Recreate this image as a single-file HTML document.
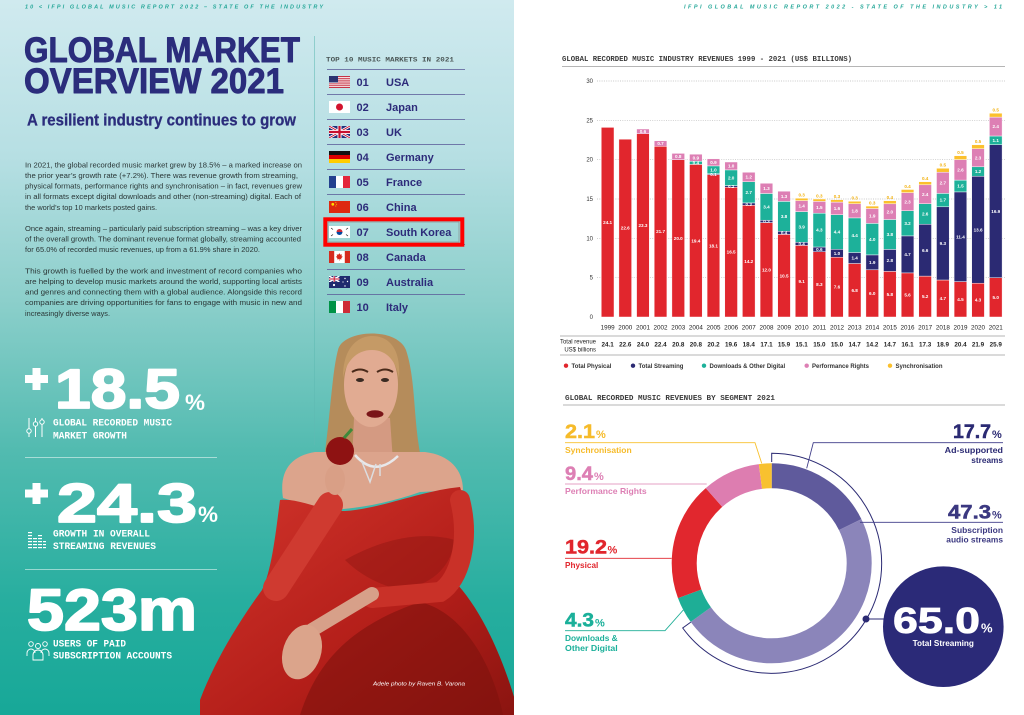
<!DOCTYPE html>
<html><head><meta charset="utf-8">
<style>
html,body{margin:0;padding:0;background:#fff;}
svg{display:block;font-family:"Liberation Sans",sans-serif;}
</style></head>
<body>
<svg width="1024" height="715" viewBox="0 0 1024 715" xmlns="http://www.w3.org/2000/svg">
<defs>
<linearGradient id="bg" x1="0" y1="0" x2="0" y2="1">
<stop offset="0" stop-color="#d0eaef"/>
<stop offset="0.22" stop-color="#b6dfe3"/>
<stop offset="0.42" stop-color="#8ccfcb"/>
<stop offset="0.63" stop-color="#52bbb0"/>
<stop offset="0.84" stop-color="#27ae9f"/>
<stop offset="1" stop-color="#17a898"/>
</linearGradient>
<linearGradient id="dress" x1="0" y1="0" x2="1" y2="1">
<stop offset="0" stop-color="#d2352c"/>
<stop offset="0.6" stop-color="#b31e19"/>
<stop offset="1" stop-color="#8a1410"/>
</linearGradient>
<clipPath id="ukc"><rect x="329" y="126" width="21" height="12"/></clipPath>
<clipPath id="auc"><rect x="329" y="276" width="10.5" height="6"/></clipPath>
</defs>

<!-- LEFT PAGE -->
<rect x="0" y="0" width="514" height="715" fill="url(#bg)"/>
<text x="25" y="8.5" font-size="5.5" font-style="italic" font-weight="bold" fill="#25a798" textLength="298" lengthAdjust="spacing">10 &lt; IFPI GLOBAL MUSIC REPORT 2022 – STATE OF THE INDUSTRY</text>

<g fill="#2b2d7c" stroke="#2b2d7c" stroke-width="0.9" stroke-linejoin="round">
<text x="24" y="62" font-size="35" font-weight="bold" textLength="276" lengthAdjust="spacingAndGlyphs">GLOBAL MARKET</text>
<text x="24" y="93" font-size="35" font-weight="bold" textLength="260" lengthAdjust="spacingAndGlyphs">OVERVIEW 2021</text>
</g>
<text x="27" y="125.5" font-size="16.5" font-weight="bold" fill="#2b2d7c" stroke="#2b2d7c" stroke-width="0.3" textLength="269" lengthAdjust="spacingAndGlyphs">A resilient industry continues to grow</text>

<g font-size="7.5" fill="#2a3636">
<text x="25" y="167.5" textLength="277" lengthAdjust="spacingAndGlyphs">In 2021, the global recorded music market grew by 18.5% – a marked increase on</text>
<text x="25" y="178" textLength="273" lengthAdjust="spacingAndGlyphs">the prior year’s growth rate (+7.2%). There was revenue growth from streaming,</text>
<text x="25" y="188.6" textLength="277" lengthAdjust="spacingAndGlyphs">physical formats, performance rights and synchronisation – in fact, revenues grew</text>
<text x="25" y="199.2" textLength="276" lengthAdjust="spacingAndGlyphs">in all formats except digital downloads and other (non-streaming) digital. Each of</text>
<text x="25" y="209.8" textLength="132" lengthAdjust="spacingAndGlyphs">the world’s top 10 markets posted gains.</text>
<text x="25" y="231" textLength="277" lengthAdjust="spacingAndGlyphs">Once again, streaming – particularly paid subscription streaming – was a key driver</text>
<text x="25" y="241.6" textLength="276" lengthAdjust="spacingAndGlyphs">of the overall growth. The dominant revenue format globally, streaming accounted</text>
<text x="25" y="252.2" textLength="235" lengthAdjust="spacingAndGlyphs">for 65.0% of recorded music revenues, up from a 61.9% share in 2020.</text>
<text x="25" y="273.4" textLength="277" lengthAdjust="spacingAndGlyphs">This growth is fuelled by the work and investment of record companies who</text>
<text x="25" y="284" textLength="277" lengthAdjust="spacingAndGlyphs">are helping to develop music markets around the world, supporting local artists</text>
<text x="25" y="294.6" textLength="277" lengthAdjust="spacingAndGlyphs">and genres and connecting them with a global audience.  Alongside this record</text>
<text x="25" y="305.2" textLength="277" lengthAdjust="spacingAndGlyphs">companies are driving opportunities for fans to engage with music in new and</text>
<text x="25" y="315.8" textLength="85" lengthAdjust="spacingAndGlyphs">increasingly diverse ways.</text>
</g>

<line x1="314.5" y1="36" x2="314.5" y2="445" stroke="#5fbab3" stroke-opacity="0.55" stroke-width="1"/>

<!-- Top 10 list -->
<text x="326" y="61.3" font-family="Liberation Mono, monospace" font-size="6.8" font-weight="bold" fill="#4a5656" textLength="128" lengthAdjust="spacingAndGlyphs">TOP 10 MUSIC MARKETS IN 2021</text>
<g stroke="#5c5e9a" stroke-width="0.9" stroke-opacity="0.8">
<line x1="327" y1="69.5" x2="465" y2="69.5"/>
<line x1="327" y1="94.5" x2="465" y2="94.5"/>
<line x1="327" y1="119.5" x2="465" y2="119.5"/>
<line x1="327" y1="144.5" x2="465" y2="144.5"/>
<line x1="327" y1="169.5" x2="465" y2="169.5"/>
<line x1="327" y1="194.5" x2="465" y2="194.5"/>
<line x1="327" y1="244.5" x2="465" y2="244.5"/>
<line x1="327" y1="269.5" x2="465" y2="269.5"/>
<line x1="327" y1="294.5" x2="465" y2="294.5"/>
</g>
<g font-size="11" font-weight="bold" fill="#2d2b7a">
<text x="356.5" y="86">01</text><text x="386" y="86">USA</text>
<text x="356.5" y="111">02</text><text x="386" y="111">Japan</text>
<text x="356.5" y="136">03</text><text x="386" y="136">UK</text>
<text x="356.5" y="161">04</text><text x="386" y="161">Germany</text>
<text x="356.5" y="186">05</text><text x="386" y="186">France</text>
<text x="356.5" y="211">06</text><text x="386" y="211">China</text>
<text x="356.5" y="236">07</text><text x="386" y="236">South Korea</text>
<text x="356.5" y="261">08</text><text x="386" y="261">Canada</text>
<text x="356.5" y="286">09</text><text x="386" y="286">Australia</text>
<text x="356.5" y="311">10</text><text x="386" y="311">Italy</text>
</g>
<!-- flags -->
<g>
<rect x="329" y="76" width="21" height="12" fill="#fff"/>
<g fill="#c42a3c"><rect x="329" y="76" width="21" height="0.95"/><rect x="329" y="77.85" width="21" height="0.95"/><rect x="329" y="79.7" width="21" height="0.95"/><rect x="329" y="81.55" width="21" height="0.95"/><rect x="329" y="83.4" width="21" height="0.95"/><rect x="329" y="85.25" width="21" height="0.95"/><rect x="329" y="87.05" width="21" height="0.95"/></g>
<rect x="329" y="76" width="9" height="6.5" fill="#2c3472"/>

<rect x="329" y="101" width="21" height="12" fill="#fff"/><circle cx="339.5" cy="107" r="3.5" fill="#d2132d"/>

<g clip-path="url(#ukc)"><rect x="329" y="126" width="21" height="12" fill="#23307a"/>
<path d="M329 126L350 138M350 126L329 138" stroke="#fff" stroke-width="2.6"/>
<path d="M329 126L350 138M350 126L329 138" stroke="#c8102e" stroke-width="0.9"/>
<path d="M339.5 126V138M329 132H350" stroke="#fff" stroke-width="4"/>
<path d="M339.5 126V138M329 132H350" stroke="#c8102e" stroke-width="2.2"/></g>

<rect x="329" y="151" width="21" height="4" fill="#111"/><rect x="329" y="155" width="21" height="4" fill="#dd0000"/><rect x="329" y="159" width="21" height="4" fill="#ffcc00"/>

<rect x="329" y="176" width="7" height="12" fill="#23408e"/><rect x="336" y="176" width="7" height="12" fill="#fff"/><rect x="343" y="176" width="7" height="12" fill="#e3263a"/>

<rect x="329" y="201" width="21" height="12" fill="#de2910"/><circle cx="332.8" cy="204.3" r="1.4" fill="#ffde00"/><circle cx="335.8" cy="202.6" r="0.5" fill="#ffde00"/><circle cx="336.6" cy="204.2" r="0.5" fill="#ffde00"/><circle cx="335.8" cy="206" r="0.5" fill="#ffde00"/>

<rect x="329" y="226" width="21" height="12" fill="#fff"/>
<path d="M336.5 232a3 3 0 0 1 6 0z" fill="#cd2e3a"/><path d="M336.5 232a3 3 0 0 0 6 0z" fill="#0047a0"/>
<g stroke="#222" stroke-width="0.7"><line x1="331" y1="228" x2="333" y2="229.5"/><line x1="346" y1="229.5" x2="348" y2="228"/><line x1="331" y1="236" x2="333" y2="234.5"/><line x1="346" y1="234.5" x2="348" y2="236"/></g>

<rect x="329" y="251" width="21" height="12" fill="#fff"/><rect x="329" y="251" width="5.2" height="12" fill="#d52b1e"/><rect x="344.8" y="251" width="5.2" height="12" fill="#d52b1e"/>
<path d="M339.5 253.2l1 1.6 1.4-0.5-0.4 2 1.3 0.3-1.6 1.6 0.3 1.2-2 -0.3v1.7h-0.4v-1.7l-2 0.3 0.3-1.2-1.6-1.6 1.3-0.3-0.4-2 1.4 0.5z" fill="#d52b1e"/>

<rect x="329" y="276" width="21" height="12" fill="#1f2a6e"/>
<g clip-path="url(#auc)"><path d="M329 276L339.5 282M339.5 276L329 282" stroke="#fff" stroke-width="1.6"/><path d="M334.25 276V282M329 279H339.5" stroke="#fff" stroke-width="2"/><path d="M334.25 276V282M329 279H339.5" stroke="#c8102e" stroke-width="1"/></g>
<g fill="#fff"><circle cx="334" cy="285" r="1.1"/><circle cx="345" cy="278.5" r="0.7"/><circle cx="347.5" cy="281.5" r="0.7"/><circle cx="343" cy="282" r="0.6"/><circle cx="345" cy="286" r="0.7"/></g>

<rect x="329" y="301" width="7" height="12" fill="#009246"/><rect x="336" y="301" width="7" height="12" fill="#fff"/><rect x="343" y="301" width="7" height="12" fill="#ce2b37"/>
</g>
<!-- highlight box -->
<rect x="328" y="222" width="131" height="20" fill="none" stroke="#8a9a9a" stroke-width="0.8"/>
<rect x="325.3" y="219.3" width="137" height="25.4" fill="none" stroke="#ff0000" stroke-width="4"/>

<!-- Big stats -->
<g fill="#fff">
<rect x="25" y="375" width="23" height="8"/><rect x="32.5" y="368" width="8" height="22"/>
<text x="55" y="408" font-size="56" font-weight="bold" stroke="#fff" stroke-width="1.8" stroke-linejoin="round" textLength="125" lengthAdjust="spacingAndGlyphs">18.5</text>
<text x="185" y="410" font-size="22" font-weight="bold" textLength="20" lengthAdjust="spacingAndGlyphs">%</text>
<text x="53" y="425.5" font-size="10.5" font-weight="bold" font-family="Liberation Mono, monospace" textLength="119" lengthAdjust="spacingAndGlyphs">GLOBAL RECORDED MUSIC</text>
<text x="53" y="438.5" font-size="10.5" font-weight="bold" font-family="Liberation Mono, monospace" textLength="74" lengthAdjust="spacingAndGlyphs">MARKET GROWTH</text>

<rect x="25" y="489.5" width="23" height="8"/><rect x="32.5" y="483" width="8" height="21"/>
<text x="57" y="522" font-size="55" font-weight="bold" stroke="#fff" stroke-width="1.8" stroke-linejoin="round" textLength="140" lengthAdjust="spacingAndGlyphs">24.3</text>
<text x="198" y="522" font-size="22" font-weight="bold" textLength="20" lengthAdjust="spacingAndGlyphs">%</text>
<text x="53" y="536.5" font-size="10.5" font-weight="bold" font-family="Liberation Mono, monospace" textLength="97" lengthAdjust="spacingAndGlyphs">GROWTH IN OVERALL</text>
<text x="53" y="549" font-size="10.5" font-weight="bold" font-family="Liberation Mono, monospace" textLength="103" lengthAdjust="spacingAndGlyphs">STREAMING REVENUES</text>

<text x="27" y="630" font-size="58" font-weight="bold" stroke="#fff" stroke-width="1.8" stroke-linejoin="round" textLength="170" lengthAdjust="spacingAndGlyphs">523m</text>
<text x="53" y="646.5" font-size="10.5" font-weight="bold" font-family="Liberation Mono, monospace" textLength="73" lengthAdjust="spacingAndGlyphs">USERS OF PAID</text>
<text x="53" y="658.5" font-size="10.5" font-weight="bold" font-family="Liberation Mono, monospace" textLength="119" lengthAdjust="spacingAndGlyphs">SUBSCRIPTION ACCOUNTS</text>
</g>
<line x1="25" y1="457.5" x2="217" y2="457.5" stroke="#fff" stroke-opacity="0.5" stroke-width="1"/>
<line x1="25" y1="569.5" x2="217" y2="569.5" stroke="#fff" stroke-opacity="0.5" stroke-width="1"/>
<!-- icons -->
<g stroke="#fff" stroke-width="1" fill="none">
<line x1="29" y1="418" x2="29" y2="437"/><circle cx="29" cy="431" r="2.2" fill="#4bb8ad"/>
<line x1="35.5" y1="418" x2="35.5" y2="437"/><circle cx="35.5" cy="424" r="2.2" fill="#4bb8ad"/>
<line x1="42" y1="418" x2="42" y2="437"/><circle cx="42" cy="422" r="2.2" fill="#4bb8ad"/>
</g>
<g fill="#fff">
<rect x="28" y="532" width="4" height="1.2"/><rect x="28" y="535" width="4" height="1.2"/><rect x="28" y="538" width="4" height="1.2"/><rect x="28" y="541" width="4" height="1.2"/><rect x="28" y="544" width="4" height="1.2"/><rect x="28" y="547" width="4" height="1.2"/>
<rect x="33" y="538" width="4" height="1.2"/><rect x="33" y="541" width="4" height="1.2"/><rect x="33" y="544" width="4" height="1.2"/><rect x="33" y="547" width="4" height="1.2"/>
<rect x="38" y="535" width="4" height="1.2"/><rect x="38" y="538" width="4" height="1.2"/><rect x="38" y="541" width="4" height="1.2"/><rect x="38" y="544" width="4" height="1.2"/><rect x="38" y="547" width="4" height="1.2"/>
<rect x="43" y="541" width="3" height="1.2"/><rect x="43" y="544" width="3" height="1.2"/><rect x="43" y="547" width="3" height="1.2"/>
</g>
<g stroke="#fff" stroke-width="0.9" fill="none">
<circle cx="31" cy="644" r="2.3"/><circle cx="38" cy="646" r="2.5"/><circle cx="45" cy="644" r="2.3"/>
<path d="M27 656v-3a4 4 0 0 1 8 0"/><path d="M33 660v-5a5 5 0 0 1 10 0v5z"/><path d="M41 653a4 4 0 0 1 8 0v3"/>
</g>

<!-- PHOTO -->
<g>
<path d="M338 350C342 330 396 326 406 350C416 380 413 420 421 458L324 458C330 420 332 372 338 350Z" fill="#b58c5b"/>
<path d="M354 418L390 418L393 462L352 462Z" fill="#d49a82"/>
<path d="M283 498C279 472 290 456 315 452L425 452C450 455 463 470 463 490L420 492C392 502 362 508 332 510C312 507 296 502 283 498Z" fill="#dca48c"/>
<ellipse cx="371" cy="385" rx="27" ry="42" fill="#e1ab92"/>
<path d="M343 378C343 345 360 336 372 336C390 336 401 350 399 378C396 360 386 350 372 350C356 350 346 362 343 378Z" fill="#c59a66"/>
<path d="M352 372q8-5 16 0M377 372q8-5 16 0" stroke="#4a2a1a" stroke-width="2" fill="none"/>
<ellipse cx="360" cy="380" rx="4" ry="2" fill="#3a2a22"/><ellipse cx="385" cy="380" rx="4" ry="2" fill="#3a2a22"/>
<ellipse cx="375" cy="414" rx="8.5" ry="3.8" fill="#7a1518"/>
<path d="M355 455Q375 478 398 456" stroke="#e8e8ea" stroke-width="2.5" fill="none"/>
<path d="M362 462l8 20l6-18M380 464l0 12" stroke="#dcdde0" stroke-width="1.5" fill="none"/>
<path d="M200 715L200 700C215 660 240 620 262 590C272 570 276 530 280 500C300 498 320 511 345 511C380 509 420 491 460 487C468 510 466 550 458 585C480 610 500 650 515 700L515 715Z" fill="url(#dress)"/>
<path d="M300 715C320 652 362 622 420 602C462 612 492 662 503 715Z" fill="#7e120e" fill-opacity="0.6"/>
<path d="M345 560C380 540 420 530 455 540C450 570 430 585 400 590C380 585 360 575 345 560Z" fill="#8e1612" fill-opacity="0.45"/>
<path d="M276 588L330 505" stroke="#cf3a30" stroke-width="26" stroke-linecap="round"/>
<path d="M460 500C470 540 460 580 440 592L372 598" stroke="#c93128" stroke-width="20" stroke-linecap="round" fill="none"/>
<ellipse cx="335" cy="480" rx="10" ry="15" fill="#d99f86"/>
<circle cx="340" cy="451" r="14" fill="#8e1212"/>
<path d="M344 438l8-9" stroke="#3d8a3a" stroke-width="3"/>
<path d="M372 594L312 630" stroke="#d7a089" stroke-width="14" stroke-linecap="round"/>
<ellipse cx="302" cy="652" rx="19" ry="28" transform="rotate(18 302 652)" fill="#dba48b"/>
<text x="373" y="685.5" font-size="5.6" font-style="italic" fill="#fff" textLength="92" lengthAdjust="spacingAndGlyphs">Adele photo by Raven B. Varona</text>
</g>

<!-- RIGHT PAGE -->
<rect x="514" y="0" width="510" height="715" fill="#fff"/>
<text x="684" y="8.5" font-size="5.5" font-style="italic" font-weight="bold" fill="#25a798" textLength="318" lengthAdjust="spacing">IFPI GLOBAL MUSIC REPORT 2022 - STATE OF THE INDUSTRY &gt; 11</text>

<text x="562" y="61" font-family="Liberation Mono, monospace" font-size="7.2" font-weight="bold" fill="#3a3a3a" textLength="290" lengthAdjust="spacingAndGlyphs">GLOBAL RECORDED MUSIC INDUSTRY REVENUES 1999 - 2021 (US$ BILLIONS)</text>
<line x1="562" y1="66.5" x2="1005" y2="66.5" stroke="#b5b5b5" stroke-width="1"/>

<!-- grid -->
<g stroke="#b8b8b8" stroke-width="0.7" stroke-dasharray="1 1.3">
<line x1="597" y1="81" x2="1005" y2="81"/>
<line x1="597" y1="120.3" x2="1005" y2="120.3"/>
<line x1="597" y1="159.7" x2="1005" y2="159.7"/>
<line x1="597" y1="199" x2="1005" y2="199"/>
<line x1="597" y1="238.3" x2="1005" y2="238.3"/>
<line x1="597" y1="277.7" x2="1005" y2="277.7"/>
</g>
<g font-size="6" fill="#333" text-anchor="end">
<text x="593" y="83">30</text><text x="593" y="122.3">25</text><text x="593" y="161.7">20</text><text x="593" y="201">15</text><text x="593" y="240.3">10</text><text x="593" y="279.7">5</text><text x="593" y="319">0</text>
</g>

<!-- bars -->
<g stroke="#fff" stroke-width="0.45">
<g transform="translate(601.3,0)"><rect width="12.7" y="127.4" height="189.6" fill="#e1262d"/></g>
<g transform="translate(618.9,0)"><rect width="12.7" y="139.2" height="177.8" fill="#e1262d"/></g>
<g transform="translate(636.6,0)"><rect width="12.7" y="133.7" height="183.3" fill="#e1262d"/><rect width="12.7" y="129" height="4.7" fill="#dd7fb4"/></g>
<g transform="translate(654.2,0)"><rect width="12.7" y="146.3" height="170.7" fill="#e1262d"/><rect width="12.7" y="140.8" height="5.5" fill="#dd7fb4"/></g>
<g transform="translate(671.9,0)"><rect width="12.7" y="159.7" height="157.3" fill="#e1262d"/><rect width="12.7" y="153.4" height="6.3" fill="#dd7fb4"/></g>
<g transform="translate(689.5,0)"><rect width="12.7" y="164.4" height="152.6" fill="#e1262d"/><rect width="12.7" y="161.3" height="3.1" fill="#1db19a"/><rect width="12.7" y="154.2" height="7.1" fill="#dd7fb4"/></g>
<g transform="translate(707.1,0)"><rect width="12.7" y="174.6" height="142.4" fill="#e1262d"/><rect width="12.7" y="173.8" height="0.8" fill="#2b2a73"/><rect width="12.7" y="165.9" height="7.9" fill="#1db19a"/><rect width="12.7" y="158.8" height="7.1" fill="#dd7fb4"/></g>
<g transform="translate(724.8,0)"><rect width="12.7" y="187.2" height="129.8" fill="#e1262d"/><rect width="12.7" y="185.6" height="1.6" fill="#2b2a73"/><rect width="12.7" y="169.9" height="15.7" fill="#1db19a"/><rect width="12.7" y="162" height="7.9" fill="#dd7fb4"/></g>
<g transform="translate(742.4,0)"><rect width="12.7" y="205.3" height="111.7" fill="#e1262d"/><rect width="12.7" y="202.9" height="2.4" fill="#2b2a73"/><rect width="12.7" y="181.7" height="21.2" fill="#1db19a"/><rect width="12.7" y="172.3" height="9.4" fill="#dd7fb4"/></g>
<g transform="translate(760.1,0)"><rect width="12.7" y="222.6" height="94.4" fill="#e1262d"/><rect width="12.7" y="220.2" height="2.4" fill="#2b2a73"/><rect width="12.7" y="193.5" height="26.7" fill="#1db19a"/><rect width="12.7" y="183.3" height="10.2" fill="#dd7fb4"/></g>
<g transform="translate(777.7,0)"><rect width="12.7" y="234.4" height="82.6" fill="#e1262d"/><rect width="12.7" y="231.3" height="3.1" fill="#2b2a73"/><rect width="12.7" y="201.4" height="29.9" fill="#1db19a"/><rect width="12.7" y="191.2" height="10.2" fill="#dd7fb4"/></g>
<g transform="translate(795.3,0)"><rect width="12.7" y="245.4" height="71.6" fill="#e1262d"/><rect width="12.7" y="242.3" height="3.1" fill="#2b2a73"/><rect width="12.7" y="211.6" height="30.7" fill="#1db19a"/><rect width="12.7" y="200.6" height="11" fill="#dd7fb4"/><rect width="12.7" y="198.2" height="2.4" fill="#fbc02d"/></g>
<g transform="translate(813,0)"><rect width="12.7" y="251.7" height="65.3" fill="#e1262d"/><rect width="12.7" y="247" height="4.7" fill="#2b2a73"/><rect width="12.7" y="213.2" height="33.8" fill="#1db19a"/><rect width="12.7" y="201.4" height="11.8" fill="#dd7fb4"/><rect width="12.7" y="199" height="2.4" fill="#fbc02d"/></g>
<g transform="translate(830.6,0)"><rect width="12.7" y="257.2" height="59.8" fill="#e1262d"/><rect width="12.7" y="249.3" height="7.9" fill="#2b2a73"/><rect width="12.7" y="214.7" height="34.6" fill="#1db19a"/><rect width="12.7" y="202.1" height="12.6" fill="#dd7fb4"/><rect width="12.7" y="199.7" height="2.4" fill="#fbc02d"/></g>
<g transform="translate(848.3,0)"><rect width="12.7" y="263.5" height="53.5" fill="#e1262d"/><rect width="12.7" y="252.5" height="11" fill="#2b2a73"/><rect width="12.7" y="217.9" height="34.6" fill="#1db19a"/><rect width="12.7" y="203.7" height="14.2" fill="#dd7fb4"/><rect width="12.7" y="201.3" height="2.4" fill="#fbc02d"/></g>
<g transform="translate(865.9,0)"><rect width="12.7" y="269.8" height="47.2" fill="#e1262d"/><rect width="12.7" y="254.9" height="14.9" fill="#2b2a73"/><rect width="12.7" y="223.4" height="31.5" fill="#1db19a"/><rect width="12.7" y="208.5" height="14.9" fill="#dd7fb4"/><rect width="12.7" y="206.1" height="2.4" fill="#fbc02d"/></g>
<g transform="translate(883.5,0)"><rect width="12.7" y="271.4" height="45.6" fill="#e1262d"/><rect width="12.7" y="249.4" height="22" fill="#2b2a73"/><rect width="12.7" y="219.5" height="29.9" fill="#1db19a"/><rect width="12.7" y="203.8" height="15.7" fill="#dd7fb4"/><rect width="12.7" y="200.7" height="3.1" fill="#fbc02d"/></g>
<g transform="translate(901.2,0)"><rect width="12.7" y="272.9" height="44.1" fill="#e1262d"/><rect width="12.7" y="235.9" height="37" fill="#2b2a73"/><rect width="12.7" y="210.7" height="25.2" fill="#1db19a"/><rect width="12.7" y="192.6" height="18.1" fill="#dd7fb4"/><rect width="12.7" y="189.5" height="3.1" fill="#fbc02d"/></g>
<g transform="translate(918.8,0)"><rect width="12.7" y="276.1" height="40.9" fill="#e1262d"/><rect width="12.7" y="224.2" height="51.9" fill="#2b2a73"/><rect width="12.7" y="203.7" height="20.5" fill="#1db19a"/><rect width="12.7" y="184.8" height="18.9" fill="#dd7fb4"/><rect width="12.7" y="181.7" height="3.1" fill="#fbc02d"/></g>
<g transform="translate(936.5,0)"><rect width="12.7" y="280" height="37" fill="#e1262d"/><rect width="12.7" y="206.8" height="73.2" fill="#2b2a73"/><rect width="12.7" y="193.4" height="13.4" fill="#1db19a"/><rect width="12.7" y="172.2" height="21.2" fill="#dd7fb4"/><rect width="12.7" y="168.3" height="3.9" fill="#fbc02d"/></g>
<g transform="translate(954.1,0)"><rect width="12.7" y="281.6" height="35.4" fill="#e1262d"/><rect width="12.7" y="191.9" height="89.7" fill="#2b2a73"/><rect width="12.7" y="180.1" height="11.8" fill="#1db19a"/><rect width="12.7" y="159.6" height="20.5" fill="#dd7fb4"/><rect width="12.7" y="155.7" height="3.9" fill="#fbc02d"/></g>
<g transform="translate(971.7,0)"><rect width="12.7" y="283.2" height="33.8" fill="#e1262d"/><rect width="12.7" y="176.2" height="107" fill="#2b2a73"/><rect width="12.7" y="166.8" height="9.4" fill="#1db19a"/><rect width="12.7" y="148.7" height="18.1" fill="#dd7fb4"/><rect width="12.7" y="144.8" height="3.9" fill="#fbc02d"/></g>
<g transform="translate(989.4,0)"><rect width="12.7" y="277.7" height="39.3" fill="#e1262d"/><rect width="12.7" y="144.7" height="133" fill="#2b2a73"/><rect width="12.7" y="136" height="8.7" fill="#1db19a"/><rect width="12.7" y="117.1" height="18.9" fill="#dd7fb4"/><rect width="12.7" y="113.2" height="3.9" fill="#fbc02d"/></g>
</g>

<!-- bar value labels -->
<g font-size="4.6" font-weight="bold" fill="#fff" text-anchor="middle">
<text x="607.65" y="223.8">24.1</text>
<text x="625.25" y="229.7">22.6</text>
<text x="642.95" y="226.9">23.3</text><text x="642.95" y="133">0.6</text>
<text x="660.55" y="233.2">21.7</text><text x="660.55" y="145.2">0.7</text>
<text x="678.25" y="239.9">20.0</text><text x="678.25" y="158.1">0.8</text>
<text x="695.85" y="242.3">19.4</text><text x="695.85" y="164.5">0.4</text><text x="695.85" y="159.4">0.9</text>
<text x="713.45" y="247.4">18.1</text><text x="713.45" y="176">0.1</text><text x="713.45" y="171.5">1.0</text><text x="713.45" y="164">0.9</text>
<text x="731.15" y="253.7">16.5</text><text x="731.15" y="188.2">0.2</text><text x="731.15" y="179.4">2.0</text><text x="731.15" y="167.6">1.0</text>
<text x="748.75" y="262.8">14.2</text><text x="748.75" y="205.9">0.3</text><text x="748.75" y="193.9">2.7</text><text x="748.75" y="178.6">1.2</text>
<text x="766.45" y="271.4">12.0</text><text x="766.45" y="223.2">0.3</text><text x="766.45" y="208.5">3.4</text><text x="766.45" y="190">1.3</text>
<text x="784.05" y="277.3">10.5</text><text x="784.05" y="234.6">0.4</text><text x="784.05" y="218">3.8</text><text x="784.05" y="197.9">1.3</text>
<text x="801.65" y="282.8">9.1</text><text x="801.65" y="245.5">0.4</text><text x="801.65" y="228.6">3.9</text><text x="801.65" y="207.7">1.4</text>
<text x="819.35" y="286">8.3</text><text x="819.35" y="251">0.6</text><text x="819.35" y="231.7">4.3</text><text x="819.35" y="208.9">1.5</text>
<text x="836.95" y="288.7">7.6</text><text x="836.95" y="254.9">1.0</text><text x="836.95" y="233.6">4.4</text><text x="836.95" y="210">1.6</text>
<text x="854.65" y="291.9">6.8</text><text x="854.65" y="259.6">1.4</text><text x="854.65" y="236.8">4.4</text><text x="854.65" y="212.4">1.8</text>
<text x="872.25" y="295">6.0</text><text x="872.25" y="264">1.9</text><text x="872.25" y="240.8">4.0</text><text x="872.25" y="217.6">1.9</text>
<text x="889.85" y="295.8">5.8</text><text x="889.85" y="262">2.8</text><text x="889.85" y="236.1">3.8</text><text x="889.85" y="213.3">2.0</text>
<text x="907.55" y="296.6">5.6</text><text x="907.55" y="256">4.7</text><text x="907.55" y="224.9">3.2</text><text x="907.55" y="203.3">2.3</text>
<text x="925.15" y="298.2">5.2</text><text x="925.15" y="251.8">6.6</text><text x="925.15" y="215.6">2.6</text><text x="925.15" y="195.9">2.4</text>
<text x="942.85" y="300.1">4.7</text><text x="942.85" y="245">9.3</text><text x="942.85" y="201.7">1.7</text><text x="942.85" y="184.4">2.7</text>
<text x="960.45" y="300.9">4.5</text><text x="960.45" y="238.4">11.4</text><text x="960.45" y="187.6">1.5</text><text x="960.45" y="171.5">2.6</text>
<text x="978.05" y="301.7">4.3</text><text x="978.05" y="231.3">13.6</text><text x="978.05" y="173.1">1.2</text><text x="978.05" y="159.4">2.3</text>
<text x="995.75" y="299">5.0</text><text x="995.75" y="212.8">16.9</text><text x="995.75" y="142">1.1</text><text x="995.75" y="128.2">2.4</text>
</g>
<g font-size="4.6" font-weight="bold" fill="#f2b10f" text-anchor="middle">
<text x="801.65" y="196.6">0.3</text><text x="819.35" y="197.4">0.3</text><text x="836.95" y="198.1">0.3</text><text x="854.65" y="199.7">0.3</text><text x="872.25" y="204.5">0.3</text><text x="889.85" y="199.1">0.4</text><text x="907.55" y="187.9">0.4</text><text x="925.15" y="180.1">0.4</text><text x="942.85" y="166.7">0.5</text><text x="960.45" y="154.1">0.5</text><text x="978.05" y="143.2">0.5</text><text x="995.75" y="111.6">0.5</text>
</g>

<!-- year labels -->
<g font-size="6.3" fill="#222" text-anchor="middle">
<text x="607.65" y="329.5">1999</text><text x="625.25" y="329.5">2000</text><text x="642.95" y="329.5">2001</text><text x="660.55" y="329.5">2002</text><text x="678.25" y="329.5">2003</text><text x="695.85" y="329.5">2004</text><text x="713.45" y="329.5">2005</text><text x="731.15" y="329.5">2006</text><text x="748.75" y="329.5">2007</text><text x="766.45" y="329.5">2008</text><text x="784.05" y="329.5">2009</text><text x="801.65" y="329.5">2010</text><text x="819.35" y="329.5">2011</text><text x="836.95" y="329.5">2012</text><text x="854.65" y="329.5">2013</text><text x="872.25" y="329.5">2014</text><text x="889.85" y="329.5">2015</text><text x="907.55" y="329.5">2016</text><text x="925.15" y="329.5">2017</text><text x="942.85" y="329.5">2018</text><text x="960.45" y="329.5">2019</text><text x="978.05" y="329.5">2020</text><text x="995.75" y="329.5">2021</text>
</g>
<line x1="560" y1="336" x2="1005" y2="336" stroke="#b5b5b5" stroke-width="1"/>
<g font-size="6" fill="#222" text-anchor="end">
<text x="596" y="343.5">Total revenue</text><text x="596" y="351.5">US$ billions</text>
</g>
<g font-size="6.3" font-weight="bold" fill="#222" text-anchor="middle">
<text x="607.65" y="346.5">24.1</text><text x="625.25" y="346.5">22.6</text><text x="642.95" y="346.5">24.0</text><text x="660.55" y="346.5">22.4</text><text x="678.25" y="346.5">20.8</text><text x="695.85" y="346.5">20.8</text><text x="713.45" y="346.5">20.2</text><text x="731.15" y="346.5">19.6</text><text x="748.75" y="346.5">18.4</text><text x="766.45" y="346.5">17.1</text><text x="784.05" y="346.5">15.9</text><text x="801.65" y="346.5">15.1</text><text x="819.35" y="346.5">15.0</text><text x="836.95" y="346.5">15.0</text><text x="854.65" y="346.5">14.7</text><text x="872.25" y="346.5">14.2</text><text x="889.85" y="346.5">14.7</text><text x="907.55" y="346.5">16.1</text><text x="925.15" y="346.5">17.3</text><text x="942.85" y="346.5">18.9</text><text x="960.45" y="346.5">20.4</text><text x="978.05" y="346.5">21.9</text><text x="995.75" y="346.5">25.9</text>
</g>
<line x1="560" y1="355" x2="1005" y2="355" stroke="#b5b5b5" stroke-width="1"/>
<!-- legend -->
<circle cx="566" cy="365.7" r="2.2" fill="#e1262d"/><text x="571.5" y="367.8" font-size="6" font-weight="bold" fill="#333">Total Physical</text>
<circle cx="633" cy="365.7" r="2.2" fill="#2b2a73"/><text x="638.5" y="367.8" font-size="6" font-weight="bold" fill="#333">Total Streaming</text>
<circle cx="704" cy="365.7" r="2.2" fill="#1db19a"/><text x="709.5" y="367.8" font-size="6" font-weight="bold" fill="#333">Downloads &amp; Other Digital</text>
<circle cx="806.7" cy="365.7" r="2.2" fill="#dd7fb4"/><text x="812" y="367.8" font-size="6" font-weight="bold" fill="#333">Performance Rights</text>
<circle cx="890" cy="365.7" r="2.2" fill="#fbc02d"/><text x="895.5" y="367.8" font-size="6" font-weight="bold" fill="#333">Synchronisation</text>

<!-- donut section -->
<text x="565" y="399.8" font-family="Liberation Mono, monospace" font-size="7.2" font-weight="bold" fill="#3a3a3a" textLength="210" lengthAdjust="spacingAndGlyphs">GLOBAL RECORDED MUSIC REVENUES BY SEGMENT 2021</text>
<line x1="563" y1="405" x2="1005" y2="405" stroke="#b5b5b5" stroke-width="1"/>

<g transform="rotate(-90 771.7 563.3)" fill="none" stroke-width="25">
<circle cx="771.7" cy="563.3" r="87.5" stroke="#5f5a9c" stroke-dasharray="97.31 549.78" stroke-dashoffset="0"/>
<circle cx="771.7" cy="563.3" r="87.5" stroke="#8b85ba" stroke-dasharray="260.05 549.78" stroke-dashoffset="-97.31"/>
<circle cx="771.7" cy="563.3" r="87.5" stroke="#1eae96" stroke-dasharray="23.64 549.78" stroke-dashoffset="-357.36"/>
<circle cx="771.7" cy="563.3" r="87.5" stroke="#e1272e" stroke-dasharray="105.56 549.78" stroke-dashoffset="-381.0"/>
<circle cx="771.7" cy="563.3" r="87.5" stroke="#dd7db0" stroke-dasharray="51.68 549.78" stroke-dashoffset="-486.56"/>
<circle cx="771.7" cy="563.3" r="87.5" stroke="#f8c12f" stroke-dasharray="11.55 549.78" stroke-dashoffset="-538.24"/>
</g>
<path d="M771.7 462V453.3A110 110 0 1 1 682.7 628L690.8 622.1" fill="none" stroke="#2b2a73" stroke-width="1"/>
<circle cx="866" cy="619" r="3.5" fill="#2b2a73"/>
<line x1="866" y1="619" x2="886" y2="619" stroke="#2b2a73" stroke-width="1"/>
<circle cx="943.3" cy="626.7" r="60.3" fill="#2b2a78"/>
<text x="893" y="633" font-size="36" font-weight="bold" fill="#fff" stroke="#fff" stroke-width="0.8" textLength="87" lengthAdjust="spacingAndGlyphs">65.0</text>
<text x="981" y="632.5" font-size="13" font-weight="bold" fill="#fff">%</text>
<text x="943.3" y="646.2" font-size="8.2" font-weight="bold" fill="#fff" text-anchor="middle">Total Streaming</text>

<!-- connector lines -->
<g fill="none" stroke-width="0.9">
<polyline points="565,442.7 755,442.7 761.7,463.3" stroke="#f8c12f"/>
<line x1="565" y1="484" x2="706.7" y2="484" stroke="#e6a0c6"/>
<line x1="565" y1="558.3" x2="671.7" y2="558.3" stroke="#e1272e"/>
<polyline points="565,630.7 665,630.7 683.3,610" stroke="#1eae96"/>
<polyline points="1003,442.7 813.3,442.7 806.7,468.3" stroke="#3f3c88"/>
<line x1="1003" y1="522.3" x2="860" y2="522.3" stroke="#3f3c88"/>
</g>

<!-- donut labels -->
<g font-weight="bold">
<text x="565" y="438" font-size="19" fill="#f6bb2a" stroke="#f6bb2a" stroke-width="0.5" textLength="30" lengthAdjust="spacingAndGlyphs">2.1</text><text x="596" y="438" font-size="11" fill="#f6bb2a">%</text>
<text x="565" y="453" font-size="8.3" fill="#f6bb2a" textLength="66.7" lengthAdjust="spacingAndGlyphs">Synchronisation</text>
<text x="565" y="480" font-size="19" fill="#dd7fb4" stroke="#dd7fb4" stroke-width="0.5" textLength="28" lengthAdjust="spacingAndGlyphs">9.4</text><text x="594" y="480" font-size="11" fill="#dd7fb4">%</text>
<text x="565" y="494" font-size="8.3" fill="#dd7fb4" textLength="81.7" lengthAdjust="spacingAndGlyphs">Performance Rights</text>
<text x="565" y="553.3" font-size="19" fill="#e1262d" stroke="#e1262d" stroke-width="0.5" textLength="42" lengthAdjust="spacingAndGlyphs">19.2</text><text x="607.5" y="553.3" font-size="11" fill="#e1262d">%</text>
<text x="565" y="568" font-size="8.3" fill="#e1262d" textLength="33.3" lengthAdjust="spacingAndGlyphs">Physical</text>
<text x="565" y="626.7" font-size="19" fill="#1bb09a" stroke="#1bb09a" stroke-width="0.5" textLength="29" lengthAdjust="spacingAndGlyphs">4.3</text><text x="595" y="626.7" font-size="11" fill="#1bb09a">%</text>
<text x="565" y="641" font-size="8.3" fill="#1bb09a" textLength="52.7" lengthAdjust="spacingAndGlyphs">Downloads &amp;</text>
<text x="565" y="651" font-size="8.3" fill="#1bb09a" textLength="52.7" lengthAdjust="spacingAndGlyphs">Other Digital</text>

<text x="953" y="438" font-size="19" fill="#2b2a73" stroke="#2b2a73" stroke-width="0.5" textLength="38" lengthAdjust="spacingAndGlyphs">17.7</text><text x="992" y="438" font-size="11" fill="#2b2a73">%</text>
<text x="1003" y="453" font-size="8.3" fill="#2b2a73" text-anchor="end" textLength="58.3" lengthAdjust="spacingAndGlyphs">Ad-supported</text>
<text x="1003" y="463" font-size="8.3" fill="#2b2a73" text-anchor="end" textLength="31.7" lengthAdjust="spacingAndGlyphs">streams</text>
<text x="948" y="518.3" font-size="19" fill="#3b3880" stroke="#3b3880" stroke-width="0.5" textLength="43" lengthAdjust="spacingAndGlyphs">47.3</text><text x="992" y="518.3" font-size="11" fill="#3b3880">%</text>
<text x="1003" y="533" font-size="8.3" fill="#3b3880" text-anchor="end" textLength="51.7" lengthAdjust="spacingAndGlyphs">Subscription</text>
<text x="1003" y="542.5" font-size="8.3" fill="#3b3880" text-anchor="end" textLength="56.7" lengthAdjust="spacingAndGlyphs">audio streams</text>
</g>
</svg>
</body></html>
